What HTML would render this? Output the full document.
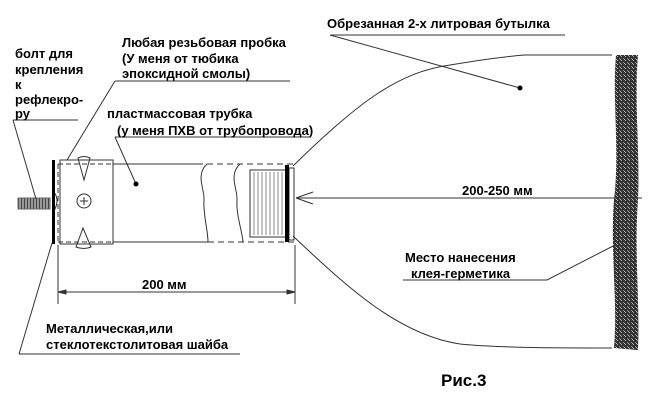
<!DOCTYPE html>
<html><head><meta charset="utf-8"><style>
body{margin:0;background:#fff}
svg text{font-family:"Liberation Sans",sans-serif;font-weight:bold;font-size:13px;fill:#000}
</style></head><body>
<svg width="650" height="404" viewBox="0 0 650 404" xmlns="http://www.w3.org/2000/svg">
<defs>
<pattern id="n" width="4" height="4" patternUnits="userSpaceOnUse">
<rect width="4" height="4" fill="#333"/><rect x="1" y="0" width="1" height="1" fill="#aaa"/><rect x="3" y="2" width="1" height="1" fill="#888"/><rect x="0" y="3" width="1" height="1" fill="#bbb"/>
</pattern>
<pattern id="b" width="3" height="11" patternUnits="userSpaceOnUse">
<rect width="3" height="11" fill="#999"/><rect width="1" height="11" fill="#444"/>
</pattern>
</defs>
<g stroke="#333" stroke-width="1" fill="none">
<path d="M293,166 C360,100 400,72 450,65 C480,60 510,56 525,55 L612,55"/>
<path d="M293,236 C350,290 400,335 460,344 C500,348 560,348 612,348"/>
<rect x="60" y="160" width="53" height="84"/>
<line x1="58" y1="164" x2="113" y2="164" stroke-dasharray="5,3"/>
<line x1="58" y1="242" x2="113" y2="242" stroke-dasharray="5,3"/>
<line x1="58" y1="164" x2="58" y2="242" stroke-dasharray="5,3"/>
<circle cx="84" cy="201" r="7"/>
<line x1="80" y1="201" x2="88" y2="201"/><line x1="84" y1="197" x2="84" y2="205"/>
<path d="M78,158 Q84,155 90,158 L84,180 Z"/>
<path d="M76,247 Q84,250 91,247 L83,228 Z"/>
<path d="M54,192 Q60,200 54,211"/>
<line x1="113" y1="164" x2="197" y2="164"/>
<line x1="113" y1="242" x2="208" y2="242"/>
<line x1="197" y1="164" x2="295" y2="164" stroke-dasharray="6,4"/>
<line x1="208" y1="242" x2="295" y2="242" stroke-dasharray="6,4"/>
<path d="M207,164 C195,175 205,190 204,200 C203,215 208,230 208,242"/>
<path d="M240,164 C228,175 238,190 237,200 C236,215 242,230 243,242"/>
<rect x="250" y="170" width="37" height="67"/>
<path d="M254,172 V235 M258,172 V235 M262,172 V235 M266,172 V235 M270,172 V235 M274,172 V235 M278,172 V235 M282,172 V235" stroke="#888"/>
<rect x="289" y="168" width="5" height="72"/>
<rect x="18" y="198" width="32" height="11" fill="url(#b)" stroke="#666"/>
<line x1="58" y1="245" x2="58" y2="304"/>
<line x1="295" y1="245" x2="295" y2="304"/>
<line x1="58" y1="292" x2="295" y2="292"/>
<path d="M58,292 l8,-2 v4 z M295,292 l-8,-2 v4 z" fill="#333"/>
<line x1="296" y1="198" x2="642" y2="198"/>
<path d="M296,198 L313,192 M296,198 L313,204"/>
<path d="M13,120 H78 M13,120 L36,199"/>
<path d="M115,81 H290 M115,81 L67,160"/>
<path d="M115,137 H310 M115,137 L136,184"/>
<path d="M19,354 H240 M19,354 L52,243"/>
<path d="M330,35 H565 M330,35 L520,88"/>
<path d="M403,280 H547 L615,245"/>
</g>
<rect x="52" y="160" width="3" height="84" fill="#000"/>
<rect x="285" y="165" width="4" height="77" fill="#000"/>
<circle cx="136" cy="184" r="2.5" fill="#000"/>
<circle cx="520" cy="88" r="2.5" fill="#000"/>
<path d="M616,55 C612,100 620,150 614,200 C610,250 618,300 614,348 L638,350 C640,300 634,250 638,200 C640,150 634,100 638,55 Z" fill="url(#n)"/>
<text x="122" y="47">Любая резьбовая пробка</text>
<text x="122" y="63">(У меня от тюбика</text>
<text x="122" y="78">эпоксидной смолы)</text>
<text x="15" y="58">болт для</text>
<text x="15" y="74">крепления</text>
<text x="15" y="89">к</text>
<text x="15" y="104">рефлекро-</text>
<text x="15" y="118">ру</text>
<text x="107" y="118">пластмассовая трубка</text>
<text x="117" y="135">(у меня ПХВ от трубопровода)</text>
<text x="327" y="28">Обрезанная 2-х литровая бутылка</text>
<text x="142" y="289">200 мм</text>
<text x="462" y="195">200-250 мм</text>
<text x="405" y="262">Место нанесения</text>
<text x="411" y="278">клея-герметика</text>
<text x="46" y="333">Металлическая,или</text>
<text x="46" y="349">стеклотекстолитовая шайба</text>
<text x="441" y="386" style="font-size:17px">Рис.3</text>
</svg>
</body></html>
